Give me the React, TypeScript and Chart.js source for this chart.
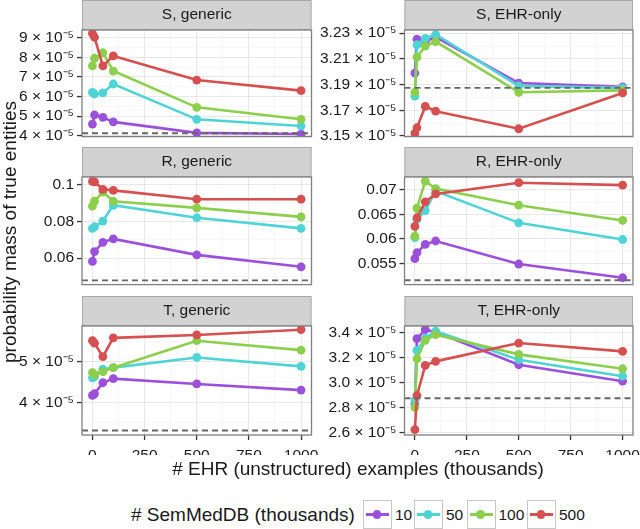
import React, { useEffect, useRef } from 'react';
import { Chart, registerables } from 'chart.js';

Chart.register(...registerables);

const FONT = "'Liberation Sans', Arial, Helvetica, sans-serif";

// ---------- data ----------
const X_VALUES = [0, 10, 50, 100, 500, 1000];
const X_MAJOR = [0, 250, 500, 750, 1000];
const X_MINOR = [125, 375, 625, 875];
const SERIES_LABELS = ['10', '50', '100', '500'];
const SERIES_COLORS = ['#9b50dc', '#4fd4d6', '#8ccf4c', '#d65050'];

// series order: 10, 50, 100, 500
const S_GENERIC = [
  [4.60e-5, 5.06e-5, 4.94e-5, 4.71e-5, 4.15e-5, 4.09e-5],
  [6.21e-5, 6.13e-5, 6.19e-5, 6.64e-5, 4.84e-5, 4.50e-5],
  [7.56e-5, 7.95e-5, 8.23e-5, 7.30e-5, 5.45e-5, 4.84e-5],
  [9.22e-5, 9.02e-5, 7.56e-5, 8.07e-5, 6.84e-5, 6.30e-5],
];
const S_EHR = [
  [3.199e-5, 3.2253e-5, 3.2235e-5, 3.227e-5, 3.1912e-5, 3.1882e-5],
  [3.181e-5, 3.221e-5, 3.226e-5, 3.229e-5, 3.189e-5, 3.1874e-5],
  [3.184e-5, 3.2114e-5, 3.220e-5, 3.2235e-5, 3.184e-5, 3.1855e-5],
  [3.152e-5, 3.1564e-5, 3.1731e-5, 3.1693e-5, 3.1556e-5, 3.1835e-5],
];
const R_GENERIC = [
  [0.0582, 0.0636, 0.0686, 0.0705, 0.0618, 0.0553],
  [0.0762, 0.0771, 0.0802, 0.0888, 0.0820, 0.0762],
  [0.0883, 0.0910, 0.0960, 0.0910, 0.0874, 0.0825],
  [0.1018, 0.1015, 0.0975, 0.0969, 0.0921, 0.0921],
];
const R_EHR = [
  [0.0560, 0.0572, 0.0589, 0.0596, 0.0549, 0.0521],
  [0.0603, 0.0640, 0.0658, 0.0698, 0.0633, 0.0599],
  [0.0606, 0.0663, 0.0718, 0.0703, 0.0669, 0.0638],
  [0.0626, 0.0643, 0.0676, 0.0692, 0.0715, 0.0710],
];
const T_GENERIC = [
  [4.17e-5, 4.21e-5, 4.48e-5, 4.58e-5, 4.45e-5, 4.30e-5],
  [4.60e-5, 4.63e-5, 4.81e-5, 4.85e-5, 5.10e-5, 4.88e-5],
  [4.73e-5, 4.68e-5, 4.75e-5, 4.85e-5, 5.51e-5, 5.28e-5],
  [5.51e-5, 5.45e-5, 5.12e-5, 5.58e-5, 5.65e-5, 5.78e-5],
];
const T_EHR = [
  [2.832e-5, 3.352e-5, 3.424e-5, 3.405e-5, 3.144e-5, 3.013e-5],
  [2.859e-5, 3.259e-5, 3.357e-5, 3.411e-5, 3.184e-5, 3.053e-5],
  [2.805e-5, 3.192e-5, 3.339e-5, 3.384e-5, 3.227e-5, 3.112e-5],
  [2.627e-5, 2.899e-5, 3.139e-5, 3.171e-5, 3.317e-5, 3.251e-5],
];
const BASELINES = [4.13e-5, 3.1874e-5, 0.0479, 0.0516, 3.31e-5, 2.877e-5];

const S_GENERIC_TICKS = [4e-5, 5e-5, 6e-5, 7e-5, 8e-5, 9e-5];
const S_GENERIC_MINOR = [4.5e-5, 5.5e-5, 6.5e-5, 7.5e-5, 8.5e-5];
const S_EHR_TICKS = [3.15e-5, 3.17e-5, 3.19e-5, 3.21e-5, 3.23e-5];
const S_EHR_MINOR = [3.16e-5, 3.18e-5, 3.20e-5, 3.22e-5];
const R_GENERIC_TICKS = [0.06, 0.08, 0.1];
const R_GENERIC_MINOR = [0.05, 0.07, 0.09];
const R_EHR_TICKS = [0.055, 0.06, 0.065, 0.07];
const R_EHR_MINOR = [0.0525, 0.0575, 0.0625, 0.0675, 0.0725];
const T_GENERIC_TICKS = [4e-5, 5e-5];
const T_GENERIC_MINOR = [3.5e-5, 4.5e-5, 5.5e-5];
const T_EHR_TICKS = [2.6e-5, 2.8e-5, 3.0e-5, 3.2e-5, 3.4e-5];
const T_EHR_MINOR = [2.7e-5, 2.9e-5, 3.1e-5, 3.3e-5];

const sci = (digits: number) => (v: number) => `${(v * 1e5).toFixed(digits)} × 10⁻⁵`;
const plain = (v: number) => `${parseFloat(v.toPrecision(6))}`;

// ---------- layout ----------
const COL = [
  { left: 0, w: 320, yw: 82, padR: 8.5 },
  { left: 320, w: 320, yw: 84.5, padR: 7 },
];
const ROW = [
  { top: 0, h: 141, padB: 4, xh: 0 },
  { top: 147, h: 142, padB: 3.5, xh: 0 },
  { top: 296, h: 166, padB: 7, xh: 20 },
];

const PANELS = [
  { title: 'S, generic', data: S_GENERIC, base: BASELINES[0], min: 3.96e-5, max: 9.39e-5, major: S_GENERIC_TICKS, minor: S_GENERIC_MINOR, fmt: sci(0), col: 0, row: 0 },
  { title: 'S, EHR-only', data: S_EHR, base: BASELINES[1], min: 3.1495e-5, max: 3.2325e-5, major: S_EHR_TICKS, minor: S_EHR_MINOR, fmt: sci(2), col: 1, row: 0 },
  { title: 'R, generic', data: R_GENERIC, base: BASELINES[2], min: 0.0456, max: 0.1042, major: R_GENERIC_TICKS, minor: R_GENERIC_MINOR, fmt: plain, col: 0, row: 1 },
  { title: 'R, EHR-only', data: R_EHR, base: BASELINES[3], min: 0.0507, max: 0.07266, major: R_EHR_TICKS, minor: R_EHR_MINOR, fmt: plain, col: 1, row: 1 },
  { title: 'T, generic', data: T_GENERIC, base: BASELINES[4], min: 3.2e-5, max: 5.87e-5, major: T_GENERIC_TICKS, minor: T_GENERIC_MINOR, fmt: sci(0), col: 0, row: 2 },
  { title: 'T, EHR-only', data: T_EHR, base: BASELINES[5], min: 2.584e-5, max: 3.453e-5, major: T_EHR_TICKS, minor: T_EHR_MINOR, fmt: sci(1), col: 1, row: 2 },
];

const isIn = (list: number[], v: number) => list.some((m) => Math.abs(m - v) <= Math.abs(m) * 1e-6);

function Panel({ p }: { p: any }) {
  const ref = useRef<HTMLCanvasElement>(null);
  const col = COL[p.col];
  const row = ROW[p.row];
  useEffect(() => {
    const decor = {
      id: 'decor',
      afterDraw(chart: any) {
        const { ctx, chartArea: a } = chart;
        ctx.save();
        // strip
        ctx.fillStyle = '#d2d2d2';
        ctx.fillRect(a.left, a.top - 30, a.right - a.left, 29.5);
        ctx.strokeStyle = '#a8a8a8';
        ctx.lineWidth = 1;
        ctx.strokeRect(a.left + 0.5, a.top - 29.5, a.right - a.left - 1, 29);
        ctx.fillStyle = '#1a1a1a';
        ctx.font = `15.5px ${FONT}`;
        ctx.textAlign = 'center';
        ctx.textBaseline = 'middle';
        ctx.fillText(p.title, (a.left + a.right) / 2, a.top - 15);
        // panel border
        ctx.strokeStyle = '#808080';
        ctx.lineWidth = 1.3;
        ctx.strokeRect(a.left, a.top, a.right - a.left, a.bottom - a.top);
        ctx.restore();
      },
    };
    const datasets: any[] = [
      {
        label: 'baseline',
        data: [{ x: -50, y: p.base }, { x: 1050, y: p.base }],
        borderColor: '#666666',
        borderWidth: 1.9,
        borderDash: [6, 4],
        pointRadius: 0,
        order: 0,
      },
    ];
    p.data.forEach((vals: number[], i: number) => {
      datasets.push({
        label: SERIES_LABELS[i],
        data: X_VALUES.map((x, j) => ({ x, y: vals[j] })),
        borderColor: SERIES_COLORS[i],
        backgroundColor: SERIES_COLORS[i],
        pointBackgroundColor: SERIES_COLORS[i],
        pointBorderWidth: 0,
        pointRadius: 4.4,
        borderWidth: 2.6,
        order: 4 - i,
      });
    });
    const xTicks = [...X_MAJOR, ...X_MINOR].sort((a, b) => a - b);
    const yTicks = [...p.major, ...p.minor].sort((a: number, b: number) => a - b);
    const bottom = p.row === 2;
    const chart = new Chart(ref.current as HTMLCanvasElement, {
      type: 'line',
      data: { datasets },
      plugins: [decor],
      options: {
        animation: false,
        responsive: false,
        events: [],
        layout: { padding: { top: 30, right: col.padR, bottom: row.padB, left: 0 } },
        plugins: { legend: { display: false }, tooltip: { enabled: false } },
        scales: {
          x: {
            type: 'linear',
            min: -50,
            max: 1050,
            afterBuildTicks: (s: any) => {
              s.ticks = xTicks.map((v) => ({ value: v }));
            },
            afterFit: (s: any) => {
              s.height = row.xh;
              s.paddingLeft = 0;
              s.paddingRight = 0;
            },
            border: { display: false },
            grid: {
              drawTicks: bottom,
              tickLength: 5,
              color: (c: any) => (isIn(X_MAJOR, c.tick?.value) ? '#e8e8e8' : '#f4f4f4'),
              lineWidth: (c: any) => (isIn(X_MAJOR, c.tick?.value) ? 1.1 : 0.7),
              tickColor: (c: any) => (isIn(X_MAJOR, c.tick?.value) ? '#333333' : 'rgba(0,0,0,0)'),
              tickWidth: 1.3,
            },
            ticks: {
              display: bottom,
              autoSkip: false,
              maxRotation: 0,
              padding: 6,
              color: '#1a1a1a',
              font: { family: FONT, size: 15.5 },
              callback: (v: any) => (isIn(X_MAJOR, v) ? String(v) : ''),
            },
          },
          y: {
            type: 'linear',
            min: p.min,
            max: p.max,
            afterBuildTicks: (s: any) => {
              s.ticks = yTicks.map((v: number) => ({ value: v }));
            },
            afterFit: (s: any) => {
              s.width = col.yw;
              s.paddingTop = 0;
              s.paddingBottom = 0;
            },
            border: { display: false },
            grid: {
              drawTicks: true,
              tickLength: 5,
              color: (c: any) => (isIn(p.major, c.tick?.value) ? '#e8e8e8' : '#f4f4f4'),
              lineWidth: (c: any) => (isIn(p.major, c.tick?.value) ? 1.1 : 0.7),
              tickColor: (c: any) => (isIn(p.major, c.tick?.value) ? '#333333' : 'rgba(0,0,0,0)'),
              tickWidth: 1.3,
            },
            ticks: {
              autoSkip: false,
              padding: 3,
              color: '#1a1a1a',
              font: { family: FONT, size: 15.5 },
              callback: (v: any) => (isIn(p.major, v) ? p.fmt(v) : ''),
            },
          },
        },
      } as any,
    });
    return () => chart.destroy();
  }, []);
  return (
    <canvas
      ref={ref}
      width={col.w}
      height={row.h}
      style={{ position: 'absolute', left: col.left, top: row.top, width: col.w, height: row.h }}
    />
  );
}

const KEY_POS = [363, 414, 466.5, 527];

export default function App() {
  return (
    <div style={{ position: 'absolute', left: 0, top: 0, width: 640, height: 529, background: '#ffffff', fontFamily: FONT, color: '#1a1a1a' }}>
      {PANELS.map((p, i) => (
        <Panel key={i} p={p} />
      ))}
      <div
        style={{
          position: 'absolute', left: 10 - 200, top: 232 - 12, width: 400, height: 24, lineHeight: '24px',
          textAlign: 'center', fontSize: 19, transform: 'rotate(-90deg)', whiteSpace: 'nowrap',
        }}
      >
        probability mass of true entities
      </div>
      <div
        style={{
          position: 'absolute', left: 358 - 250, top: 469 - 12, width: 500, height: 24, lineHeight: '24px',
          textAlign: 'center', fontSize: 19, whiteSpace: 'nowrap',
        }}
      >
        # EHR (unstructured) examples (thousands)
      </div>
      <div style={{ position: 'absolute', left: 131, top: 515 - 12, height: 24, lineHeight: '24px', fontSize: 19, whiteSpace: 'nowrap' }}>
        # SemMedDB (thousands)
      </div>
      {SERIES_LABELS.map((lab, i) => (
        <React.Fragment key={lab}>
          <div
            style={{
              position: 'absolute', left: KEY_POS[i], top: 500, width: 29, height: 29, boxSizing: 'border-box',
              border: '1.5px solid #c8c8c8', background: '#ffffff',
            }}
          >
            <div style={{ position: 'absolute', left: 2, right: 2, top: 12, height: 2.6, background: SERIES_COLORS[i] }} />
            <div
              style={{
                position: 'absolute', left: 13 - 4.4, top: 13.3 - 4.4, width: 8.8, height: 8.8, borderRadius: '50%',
                background: SERIES_COLORS[i],
              }}
            />
          </div>
          <div style={{ position: 'absolute', left: KEY_POS[i] + 32, top: 515 - 10, height: 20, lineHeight: '20px', fontSize: 15.5, whiteSpace: 'nowrap' }}>
            {lab}
          </div>
        </React.Fragment>
      ))}
    </div>
  );
}
